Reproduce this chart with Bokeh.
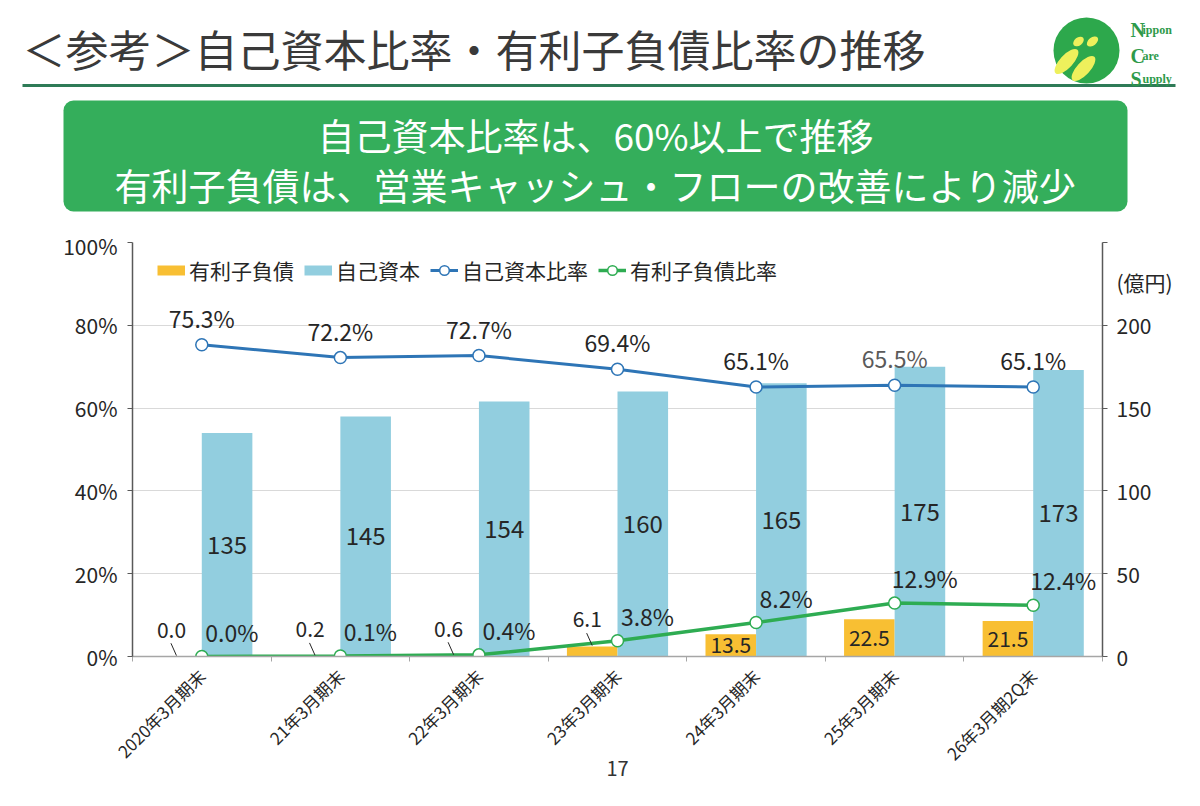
import math
from bokeh.plotting import figure
from bokeh.models import (Range1d, LinearAxis, FixedTicker, PrintfTickFormatter, Legend,
                          LegendItem, ColumnDataSource, BoxAnnotation)
from bokeh.layouts import column
from bokeh.transform import dodge
from bokeh.core.properties import value
from bokeh.embed import file_html
from bokeh.resources import INLINE

JP = "Noto Sans CJK JP"

# ---------------- data ----------------
title_text = "＜参考＞自己資本比率・有利子負債比率の推移"
banner_lines = ["自己資本比率は、60%以上で推移",
                "有利子負債は、営業キャッシュ・フローの改善により減少"]
categories = ["2020年3月期末", "21年3月期末", "22年3月期末", "23年3月期末",
              "24年3月期末", "25年3月期末", "26年3月期2Q末"]
debt = [0.0, 0.2, 0.6, 6.1, 13.5, 22.5, 21.5]            # 有利子負債 (億円)
equity = [135, 145, 154, 160, 165, 175, 173]             # 自己資本 (億円)
equity_ratio = [75.3, 72.2, 72.7, 69.4, 65.1, 65.5, 65.1]  # 自己資本比率 (%)
debt_ratio = [0.0, 0.1, 0.4, 3.8, 8.2, 12.9, 12.4]         # 有利子負債比率 (%)
pct_ticks = [0, 20, 40, 60, 80, 100]
amt_ticks = [0, 50, 100, 150, 200, 250]
series_names = ["有利子負債", "自己資本", "自己資本比率", "有利子負債比率"]
unit_label = "(億円)"
page_no = "17"
logo_words = [("N", "ippon"), ("C", "are"), ("S", "upply")]

# styles
ORANGE = "#F8BF33"
LIGHTBLUE = "#92CEDF"
BLUE = "#2E75B6"
GREEN = "#2EAC52"
TXT = "#262626"
ratio_label_colors = [TXT, TXT, TXT, TXT, TXT, "#5A5A5A", TXT]

W = 1184
HEAD_H = 230
CH_H = 560

# ---------------- header ----------------
head = figure(width=W, height=HEAD_H, x_range=Range1d(0, W), y_range=Range1d(0, HEAD_H),
              toolbar_location=None, output_backend="svg", x_axis_type=None, y_axis_type=None,
              min_border=0)
head.outline_line_color = None
head.frame_align = False


def Y(ry):
    return HEAD_H - ry


head.text(x=[22], y=[Y(47)], text=[title_text], text_font=value(JP), text_font_size="43px",
          text_color="#3a3a3a", text_align="left", text_baseline="middle")
head.line(x=[22, 1175], y=[Y(85), Y(85)], line_color="#2E7B57", line_width=3)

banner = BoxAnnotation(left=63, right=1127, bottom=Y(211), top=Y(100), fill_color="#34AE5B",
                       fill_alpha=1.0, line_color=None, border_radius=10, level="underlay")
head.add_layout(banner)
head.text(x=[595, 595], y=[Y(134), Y(184)], text=banner_lines, text_font=value(JP),
          text_font_size="37px", text_color="white", text_align="center", text_baseline="middle")

# logo
head.circle(x=[1086], y=[Y(50)], radius=33, fill_color="#2DA84C", line_color=None)
head.ellipse(x=[1066, 1083, 1092, 1078], y=[Y(61), Y(68), Y(41), Y(41)],
             width=[13, 13, 8, 8], height=[32, 32, 13, 12],
             angle=[-0.75, -0.75, -0.9, -0.9], fill_color="#EEF05C", line_color=None)
cap_y = [Y(29), Y(55), Y(78)]
head.text(x=[1130] * 3, y=cap_y, text=[w[0] for w in logo_words],
          text_font=value("Liberation Serif"), text_font_style="bold", text_font_size="20px",
          text_color="#2E9A4A", text_align="left", text_baseline="alphabetic")
head.text(x=[1142] * 3, y=cap_y, text=[w[1] for w in logo_words],
          text_font=value("Liberation Serif"), text_font_style="bold", text_font_size="12px",
          text_color="#2E9A4A", text_align="left", text_baseline="alphabetic")

# ---------------- chart ----------------
p = figure(width=W, height=CH_H, x_range=Range1d(-0.5, len(categories) - 0.5),
           y_range=Range1d(pct_ticks[0], pct_ticks[-1]),
           toolbar_location=None, output_backend="svg",
           min_border_left=132, min_border_right=82, min_border_top=12, min_border_bottom=134)
p.frame_align = False
p.extra_y_ranges = {"amt": Range1d(amt_ticks[0], amt_ticks[-1])}
p.outline_line_color = None
p.background_fill_color = "white"

idx = list(range(len(categories)))
BW = 0.365

src = ColumnDataSource(dict(
    x=idx, debt=debt, equity=equity, eq_half=[e / 2 for e in equity],
    er=equity_ratio, dr=debt_ratio,
    eq_lbl=[str(e) for e in equity],
    er_lbl=[f"{v:.1f}%" for v in equity_ratio],
    dr_lbl=[f"{v:.1f}%" for v in debt_ratio],
    er_col=ratio_label_colors,
))

# bars
p.vbar(x=dodge("x", -BW / 2), top="debt", width=BW, source=src, y_range_name="amt",
       fill_color=ORANGE, line_color=None)
p.vbar(x=dodge("x", BW / 2), top="equity", width=BW, source=src, y_range_name="amt",
       fill_color=LIGHTBLUE, line_color=None)

# lines
er_line = p.line("x", "er", source=src, line_color=BLUE, line_width=3)
er_pts = p.scatter("x", "er", source=src, marker="circle", size=12, fill_color="white",
                   line_color=BLUE, line_width=1.5)
dr_line = p.line("x", "dr", source=src, line_color=GREEN, line_width=3.5)
dr_pts = p.scatter("x", "dr", source=src, marker="circle", size=12, fill_color="white",
                   line_color=GREEN, line_width=1.5)

# labels: blue bars (centre)
p.text(x=dodge("x", BW / 2), y="eq_half", text="eq_lbl", source=src, y_range_name="amt",
       text_font=value(JP), text_font_size="24px", text_color=TXT,
       text_align="center", text_baseline="middle")

# labels: debt bars
small = [i for i, v in enumerate(debt) if v < 10]
big = [i for i, v in enumerate(debt) if v >= 10]
src_small = ColumnDataSource(dict(
    x=[i - BW / 2 for i in small], y=[debt[i] for i in small],
    lbl=[f"{debt[i]:.1f}" for i in small],
    lx0=[i - BW / 2 - 0.04 for i in small], ly0=[debt[i] + 8 for i in small],
    ly1=[debt[i] + 0.5 for i in small],
))
src_big = ColumnDataSource(dict(
    x=[i - BW / 2 for i in big], y=[debt[i] / 2 for i in big],
    lbl=[f"{debt[i]:.1f}" for i in big],
))
p.segment(x0="lx0", y0="ly0", x1="x", y1="ly1", source=src_small, y_range_name="amt",
          line_color=TXT, line_width=1)
p.text(x="x", y="y", text="lbl", source=src_small, y_range_name="amt", x_offset=-5,
       y_offset=-27, text_font=value(JP), text_font_size="21px", text_color=TXT,
       text_align="center", text_baseline="middle")
p.text(x="x", y="y", text="lbl", source=src_big, y_range_name="amt",
       text_font=value(JP), text_font_size="21px", text_color=TXT,
       text_align="center", text_baseline="middle")

# labels: ratio lines
p.text(x="x", y="er", text="er_lbl", source=src, y_offset=-27, text_font=value(JP),
       text_font_size="23px", text_color="er_col", text_align="center", text_baseline="middle")
p.text(x="x", y="dr", text="dr_lbl", source=src, x_offset=30, y_offset=-25, text_font=value(JP),
       text_font_size="23px", text_color=TXT, text_align="center", text_baseline="middle")

# axes
pct_ticker = FixedTicker(ticks=pct_ticks)
ly = p.yaxis[0]
ly.ticker = pct_ticker
ly.formatter = PrintfTickFormatter(format="%d%%")
ly.axis_line_color = "#595959"
ly.axis_line_width = 1.5
ly.major_tick_line_color = "#595959"
ly.major_tick_out = 5
ly.major_tick_in = 0
ly.minor_tick_line_color = None
ly.major_label_text_font = JP
ly.major_label_text_font_size = "21px"
ly.major_label_text_color = TXT
ly.major_label_standoff = 10
p.ygrid[0].ticker = pct_ticker
p.ygrid.grid_line_color = "#D9D9D9"
p.xgrid.grid_line_color = None

xa = p.xaxis[0]
xa.ticker = FixedTicker(ticks=idx, minor_ticks=[i - 0.5 for i in range(len(categories) + 1)])
xa.major_label_overrides = {i: c for i, c in zip(idx, categories)}
xa.major_label_orientation = math.pi / 4
xa.major_tick_out = 0
xa.major_tick_in = 0
xa.major_tick_line_color = None
xa.minor_tick_out = 5
xa.minor_tick_in = 0
xa.minor_tick_line_color = "#A6A6A6"
xa.axis_line_color = "#A6A6A6"
xa.axis_line_width = 1.5
xa.major_label_standoff = 11
xa.major_label_text_font = JP
xa.major_label_text_font_size = "17px"
xa.major_label_text_color = TXT
# page number shown beneath the category labels
xa.axis_label = page_no
xa.axis_label_text_font = JP
xa.axis_label_text_font_size = "20px"
xa.axis_label_text_font_style = "normal"
xa.axis_label_text_color = "#333333"
xa.axis_label_standoff = -16

# right axis: tick marks as minor ticks, unit caption as a label near the top
unit_pos = amt_ticks[-1] - 24
ry = LinearAxis(y_range_name="amt",
                ticker=FixedTicker(ticks=amt_ticks[:-1] + [unit_pos], minor_ticks=amt_ticks),
                major_label_overrides={unit_pos: unit_label})
ry.axis_line_color = "#595959"
ry.axis_line_width = 1.5
ry.major_tick_line_color = None
ry.major_tick_out = 5
ry.major_tick_in = 0
ry.minor_tick_line_color = "#595959"
ry.minor_tick_out = 5
ry.minor_tick_in = 0
ry.major_label_text_font = JP
ry.major_label_text_font_size = "21px"
ry.major_label_text_color = TXT
ry.major_label_standoff = 9
p.add_layout(ry, "right")

# legend (proxies for bar swatches: no visible data)
nan = float("nan")
leg_debt = p.line(x=[0, 1], y=[nan, nan], line_color=ORANGE, line_width=10)
leg_eq = p.line(x=[0, 1], y=[nan, nan], line_color=LIGHTBLUE, line_width=10)
legend = Legend(items=[
    LegendItem(label=series_names[0], renderers=[leg_debt]),
    LegendItem(label=series_names[1], renderers=[leg_eq]),
    LegendItem(label=series_names[2], renderers=[er_line, er_pts]),
    LegendItem(label=series_names[3], renderers=[dr_line, dr_pts]),
], location=(25, 371), orientation="horizontal", label_text_font=JP,
    label_text_font_size="21px", label_text_color=TXT, glyph_width=28, glyph_height=24,
    label_standoff=4, spacing=10, padding=0, margin=0, border_line_color=None,
    background_fill_alpha=0)
p.add_layout(legend)

layout = column(head, p)
open("out.html", "w").write(file_html(layout, INLINE))
